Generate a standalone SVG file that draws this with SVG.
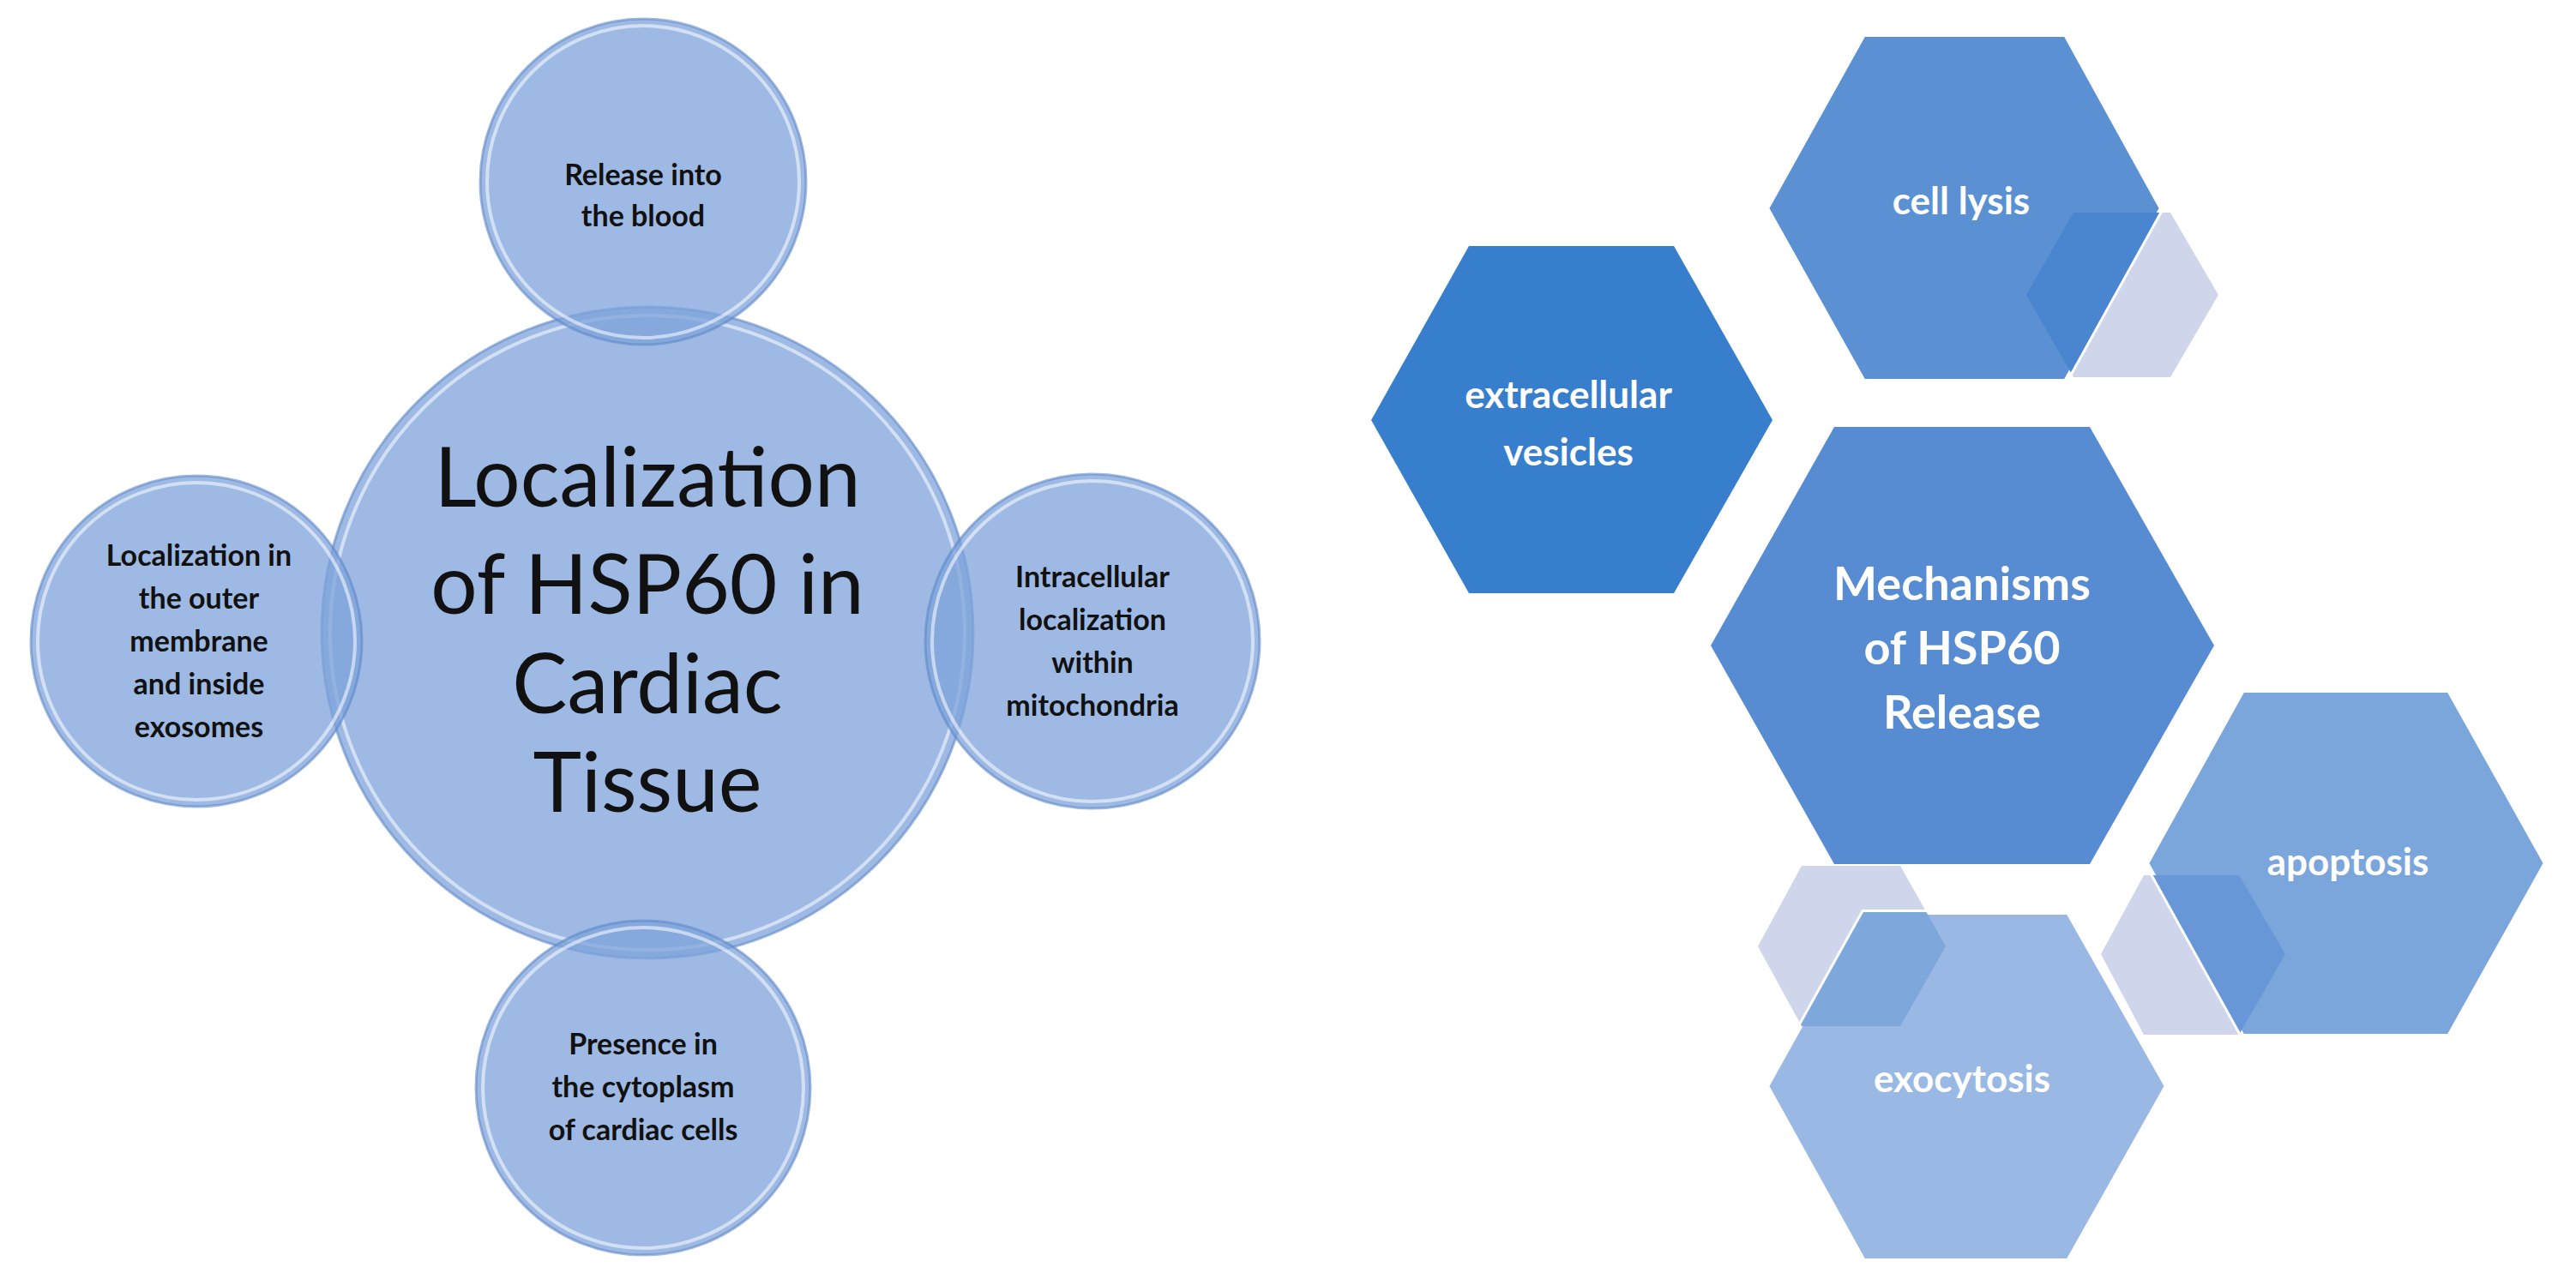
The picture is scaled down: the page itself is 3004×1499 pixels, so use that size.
<svg xmlns="http://www.w3.org/2000/svg" width="3004" height="1499" viewBox="0 0 3004 1499">
<style>
.c{fill:#7ea3db;fill-opacity:0.75;stroke:#5f88c8;stroke-opacity:0.6;stroke-width:3}
.g{fill:none;stroke:#ffffff;stroke-opacity:0.55;stroke-width:4}
.t{font-family:Lato,"Noto Sans",sans-serif;fill:#111;text-anchor:middle}
.s{font-size:34px;font-weight:bold}
.w{font-family:Lato,"Noto Sans",sans-serif;fill:#fff;text-anchor:middle;font-weight:bold}
.acc{fill:#cfd5ea}
</style>
<defs>
<clipPath id="cl1"><polygon points="2060,243 2173,40 2409,40 2521,243 2409,445 2173,445"/></clipPath>
<clipPath id="cl2"><polygon points="2060,1267 2173,1064 2412,1064 2527,1267 2412,1471 2173,1471"/></clipPath>
<clipPath id="cl3"><polygon points="2503,1007 2615,805 2856,805 2969,1007 2856,1209 2615,1209"/></clipPath>
</defs>
<rect width="3004" height="1499" fill="#fff"/>
<g id="center"><circle class="c" cx="755" cy="738" r="380"/><circle class="g" cx="755" cy="738" r="370"/>
<text class="t" font-size="96"><tspan x="755" y="591">Localization</tspan><tspan x="755" y="716">of HSP60 in</tspan><tspan x="755" y="832">Cardiac</tspan><tspan x="755" y="947">Tissue</tspan></text></g>
<g id="top"><circle class="c" cx="750" cy="212" r="190"/><circle class="g" cx="750" cy="212" r="182"/>
<text class="t s"><tspan x="750" y="216">Release into</tspan><tspan x="750" y="264">the blood</tspan></text></g>
<g id="left"><circle class="c" cx="229" cy="748" r="193"/><circle class="g" cx="229" cy="748" r="185"/>
<text class="t s"><tspan x="232" y="660">Localization in</tspan><tspan x="232" y="710">the outer</tspan><tspan x="232" y="760">membrane</tspan><tspan x="232" y="810">and inside</tspan><tspan x="232" y="860">exosomes</tspan></text></g>
<g id="right"><circle class="c" cx="1274" cy="748" r="195"/><circle class="g" cx="1274" cy="748" r="187"/>
<text class="t s"><tspan x="1274" y="685">Intracellular</tspan><tspan x="1274" y="735">localization</tspan><tspan x="1274" y="785">within</tspan><tspan x="1274" y="835">mitochondria</tspan></text></g>
<g id="bottom"><circle class="c" cx="750" cy="1269" r="195"/><circle class="g" cx="750" cy="1269" r="187"/>
<text class="t s"><tspan x="750" y="1230">Presence in</tspan><tspan x="750" y="1280">the cytoplasm</tspan><tspan x="750" y="1330">of cardiac cells</tspan></text></g>

<g id="accents">
<polygon class="acc" points="2363,344 2418,248 2531,248 2587,344 2531,440 2418,440"/>
<polygon class="acc" points="2050,1104 2101,1010 2216,1010 2269,1104 2216,1197 2101,1197"/>
<polygon class="acc" points="2450,1113 2500,1021 2611,1021 2665,1113 2611,1207 2500,1207"/>
</g>
<g id="extracellular"><polygon fill="#377ecc" points="1599,490 1713,287 1952,287 2067,490 1952,692 1713,692"/>
<text class="w" font-size="44"><tspan x="1829" y="476">extracellular</tspan><tspan x="1829" y="543">vesicles</tspan></text></g>
<g id="celllysis"><polygon fill="#5b91d3" stroke="#fff" stroke-width="6" points="2060,243 2173,40 2409,40 2521,243 2409,445 2173,445"/>
<polygon fill="#4a85cf" clip-path="url(#cl1)" points="2363,344 2418,248 2531,248 2587,344 2531,440 2418,440"/>
<text class="w" font-size="44" x="2287" y="250">cell lysis</text></g>
<g id="main"><polygon fill="#578cd3" points="1995,753 2139,498 2437,498 2582,753 2437,1008 2139,1008"/>
<text class="w" font-size="54"><tspan x="2288" y="700">Mechanisms</tspan><tspan x="2288" y="775">of HSP60</tspan><tspan x="2288" y="850">Release</tspan></text></g>
<g id="apoptosis"><polygon fill="#7ba6dc" stroke="#fff" stroke-width="6" points="2503,1007 2615,805 2856,805 2969,1007 2856,1209 2615,1209"/>
<polygon fill="#6897d8" clip-path="url(#cl3)" points="2450,1113 2500,1021 2611,1021 2665,1113 2611,1207 2500,1207"/>
<text class="w" font-size="44" x="2738" y="1021">apoptosis</text></g>
<g id="exocytosis"><polygon fill="#99b8e3" stroke="#fff" stroke-width="6" points="2060,1267 2173,1064 2412,1064 2527,1267 2412,1471 2173,1471"/>
<polygon fill="#7ea7db" clip-path="url(#cl2)" points="2050,1104 2101,1010 2216,1010 2269,1104 2216,1197 2101,1197"/>
<text class="w" font-size="44" x="2288" y="1274">exocytosis</text></g>
<g id="connectors"/>
</svg>
